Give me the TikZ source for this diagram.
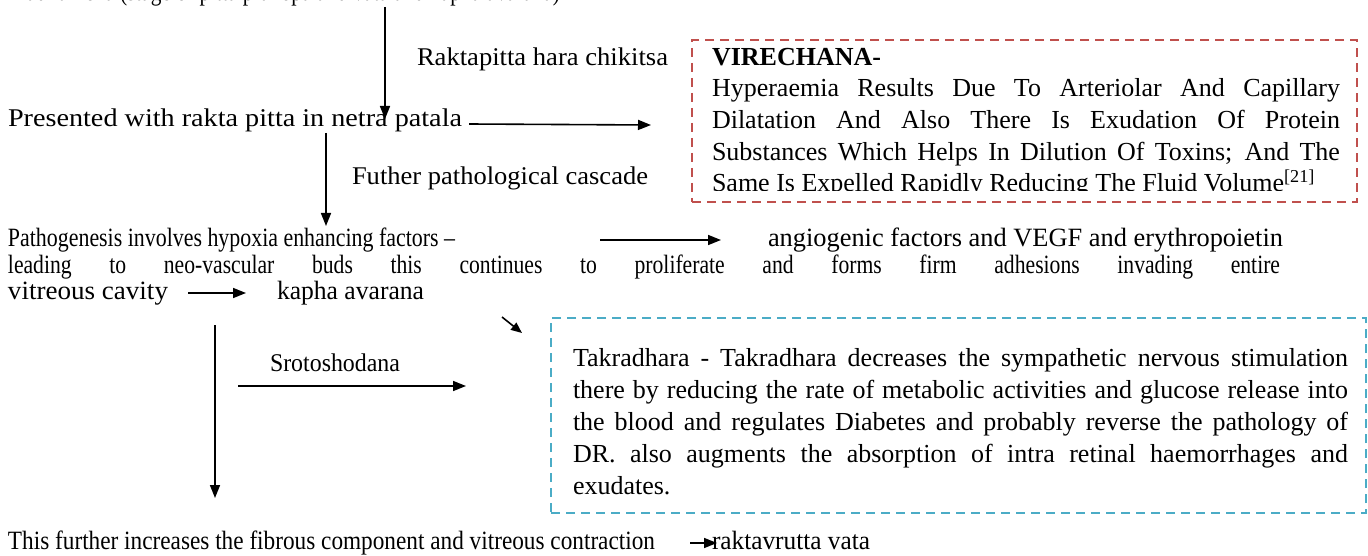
\documentclass[tikz,border=0pt]{standalone}
\usepackage{fontspec}
\setmainfont{Liberation Serif}
\newfontfamily\condf[FakeStretch=0.82]{Liberation Serif}
\usepackage{graphicx}
\usetikzlibrary{arrows.meta}
\definecolor{redbox}{HTML}{C0504D}
\definecolor{bluebox}{HTML}{4BACC6}
\newcommand\fw[2]{\resizebox{#1}{\height}{#2}}
\newcommand\jl[2]{\makebox[#1][s]{#2}}
\begin{document}
\begin{tikzpicture}[x=1pt,y=-1pt,
  txt/.style={inner sep=0pt, outer sep=0pt, anchor=base west, font=\fontsize{25.5}{32}\selectfont},
  small/.style={txt, font=\fontsize{26.4}{26}\selectfont},
  boxtxt/.style={txt, font=\fontsize{26}{32}\selectfont},
  arr/.style={line width=1.6pt, -{Triangle[length=13pt,width=10pt]}},
  dbox/.style={line width=2pt, dash pattern=on 9pt off 6pt, inner sep=0pt, outer sep=0pt, anchor=north west}
]
\useasboundingbox (0,0) rectangle (1368,556);
\fill[white] (0,0) rectangle (1368,556);

% top (cut) line
\node[small] (top) at (8,1) {\fw{552pt}{Madhumeha (stage of pitta prakopa and vata and kapha avarana)}};

% first vertical arrow
\coordinate (a1s) at (385,7);
\coordinate (a1e) at (385,119);
\draw[arr] (a1s) -- (a1e);
\node[txt] (rhc) at (417,66) {\fw{251pt}{Raktapitta hara chikitsa}};

\node[txt] (pres) at (8,127) {\fw{454pt}{Presented with rakta pitta in netra patala}};
\coordinate (a2s) at (469,124);
\coordinate (a2e) at (651,125);
\draw[arr] (a2s) -- (a2e);

% red box
\node[dbox, draw=redbox, minimum width=665pt, minimum height=162pt] (vbox) at (692,40) {};
\begin{scope}
\clip (692,40) rectangle (1357,191);
\node[boxtxt, font=\fontsize{26}{32}\selectfont\bfseries] (vt) at (712,66) {VIRECHANA-};
\node[boxtxt] (v1) at (712,97) {\jl{628pt}{Hyperaemia Results Due To Arteriolar And Capillary}};
\node[boxtxt] (v2) at (712,129) {\jl{628pt}{Dilatation And Also There Is Exudation Of Protein}};
\node[boxtxt] (v3) at (712,161) {\jl{628pt}{Substances Which Helps In Dilution Of Toxins; And The}};
\node[boxtxt] (v4) at (712,192) {Same Is Expelled Rapidly Reducing The Fluid Volume\textsuperscript{[21]}};
\end{scope}

% second vertical arrow
\coordinate (a3s) at (326,133);
\coordinate (a3e) at (326,226);
\draw[arr] (a3s) -- (a3e);
\node[txt] (fpc) at (352,185) {\fw{296pt}{Futher pathological cascade}};

% pathogenesis block
\node[small] (patho) at (8,247) {\fw{447pt}{Pathogenesis involves hypoxia enhancing factors –}};
\coordinate (a4s) at (600,240);
\coordinate (a4e) at (721,240);
\draw[arr] (a4s) -- (a4e);
\node[small] (angio) at (768,247) {\fw{515pt}{angiogenic factors and VEGF and erythropoietin}};
\node[small, font=\fontsize{26.4}{26}\condf] (lead) at (8,273) {\jl{1272pt}{leading to neo-vascular buds this continues to proliferate and forms firm adhesions invading entire}};
\node[small] (vitr) at (8,299) {\fw{160pt}{vitreous cavity}};
\coordinate (a5s) at (188,293);
\coordinate (a5e) at (246,293);
\draw[arr] (a5s) -- (a5e);
\node[small] (kapha) at (277,299) {\fw{147pt}{kapha avarana}};

% diagonal arrow
\coordinate (a6s) at (502,317);
\coordinate (a6e) at (522,333);
\draw[arr, -{Triangle[length=11pt,width=9pt]}] (a6s) -- (a6e);

% blue box
\node[dbox, draw=bluebox, minimum width=815pt, minimum height=195pt] (tbox) at (551,318) {};
\node[boxtxt] (t1) at (573,366) {\jl{775pt}{Takradhara - Takradhara decreases the sympathetic nervous stimulation}};
\node[boxtxt] (t2) at (573,398) {\jl{775pt}{there by reducing the rate of metabolic activities and glucose release into}};
\node[boxtxt] (t3) at (573,430) {\jl{775pt}{the blood and regulates Diabetes and probably reverse the pathology of}};
\node[boxtxt] (t4) at (573,462) {\jl{775pt}{DR. also augments the absorption of intra retinal haemorrhages and}};
\node[boxtxt] (t5) at (573,494) {exudates.};

% long vertical arrow and srotoshodana
\coordinate (a7s) at (215,325);
\coordinate (a7e) at (215,498);
\draw[arr] (a7s) -- (a7e);
\node[txt] (sroto) at (270,371) {\fw{130pt}{Srotoshodana}};
\coordinate (a8s) at (238,386);
\coordinate (a8e) at (466,386);
\draw[arr] (a8s) -- (a8e);

% bottom line
\node[small] (fib) at (8,549) {\fw{647pt}{This further increases the fibrous component and vitreous contraction}};
\coordinate (a9s) at (690,543);
\coordinate (a9e) at (717,543);
\draw[arr] (a9s) -- (a9e);
\node[small] (rv) at (712,549) {\fw{158pt}{raktavrutta vata}};
\end{tikzpicture}
\end{document}
